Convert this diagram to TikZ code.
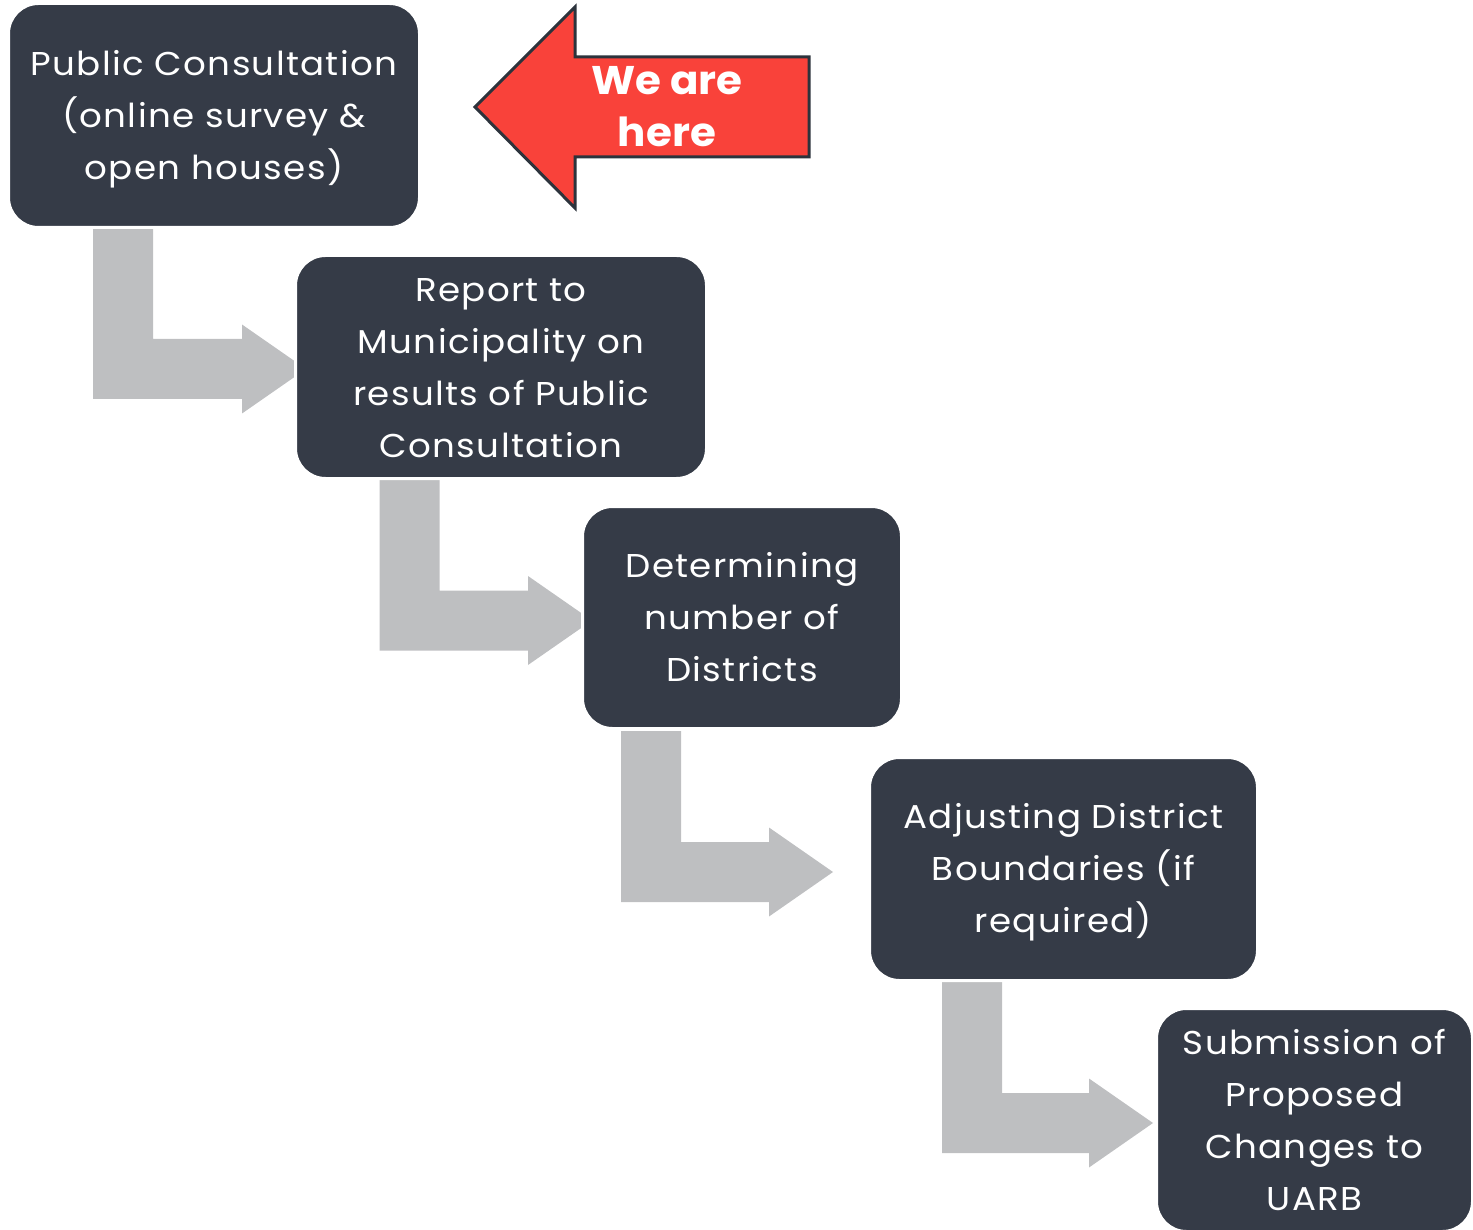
\documentclass[tikz,border=0pt]{standalone}
\usepackage{fontspec}
\setmainfont{Poppins}[FakeStretch=1.08, LetterSpace=4]
\newfontfamily\herefont{Poppins}[FakeStretch=1.05]
\usetikzlibrary{calc}
\definecolor{boxc}{HTML}{353B47}
\definecolor{arrc}{HTML}{BEBFC1}
\definecolor{redc}{HTML}{F9423A}
\definecolor{redline}{HTML}{2C333C}
\newcommand\lsteparrow[2]{%
  \fill[lshape] let \p1=(#1), \p2=(#2) in
    (\x1-30pt,\y1) -- (\x1+30pt,\y1) -- (\x1+30pt,\y2+30pt) -- (\x2-64pt,\y2+30pt)
    -- (\x2-64pt,\y2+44.5pt) -- (\x2,\y2) -- (\x2-64pt,\y2-44.5pt) -- (\x2-64pt,\y2-30pt)
    -- (\x1-30pt,\y2-30pt) -- cycle;}
\newcommand\lstrut{\rule[-8pt]{0pt}{40pt}}
\begin{document}
\begin{tikzpicture}[x=1pt,y=-1pt,
  box/.style={fill=boxc, draw=white, line width=3pt, rounded corners=30pt,
    text=white, align=center, font=\fontsize{33}{52}\selectfont, inner sep=0pt},
  lshape/.style={fill=arrc},
  herearrow/.style={fill=redc, draw=redline, line width=3pt, line join=miter},
  heretext/.style={text=white, align=center, font=\fontsize{40}{52}\selectfont\herefont\bfseries}
]
\useasboundingbox (0,0) rectangle (1473,1230);
% arrow anchors
\coordinate (a1) at (123,228);   \coordinate (t1) at (306,369);
\coordinate (a2) at (409.5,480); \coordinate (t2) at (592,620.5);
\coordinate (a3) at (651,731);   \coordinate (t3) at (833,872);
\coordinate (a4) at (972,982);   \coordinate (t4) at (1153,1123);
\lsteparrow{a1}{t1}
\lsteparrow{a2}{t2}
\lsteparrow{a3}{t3}
\lsteparrow{a4}{t4}
% boxes
\node[box, minimum width=411, minimum height=224] (b1) at (214,115.5)
  {\lstrut Public Consultation\\\lstrut(online survey \&\\\lstrut open houses)};
\node[box, minimum width=411, minimum height=223] (b2) at (501,367)
  {\lstrut Report to\\\lstrut Municipality on\\\lstrut results of Public\\\lstrut Consultation};
\node[box, minimum width=319, minimum height=222] (b3) at (742,617.5)
  {\lstrut Determining\\\lstrut number of\\\lstrut Districts};
\node[box, minimum width=388, minimum height=223] (b4) at (1063.5,869)
  {\lstrut Adjusting District\\\lstrut Boundaries (if\\\lstrut required)};
\node[box, minimum width=316, minimum height=223] (b5) at (1314.5,1120)
  {\lstrut Submission of\\\lstrut Proposed\\\lstrut Changes to\\\lstrut UARB};
% we are here
\filldraw[herearrow] (475,107) -- (575,7) -- (575,57) -- (809,57) -- (809,157)
  -- (575,157) -- (575,208) -- cycle;
\node[heretext, yshift=-2pt] (here) at (667,107) {\lstrut We are\\\lstrut here};
\end{tikzpicture}
\end{document}
